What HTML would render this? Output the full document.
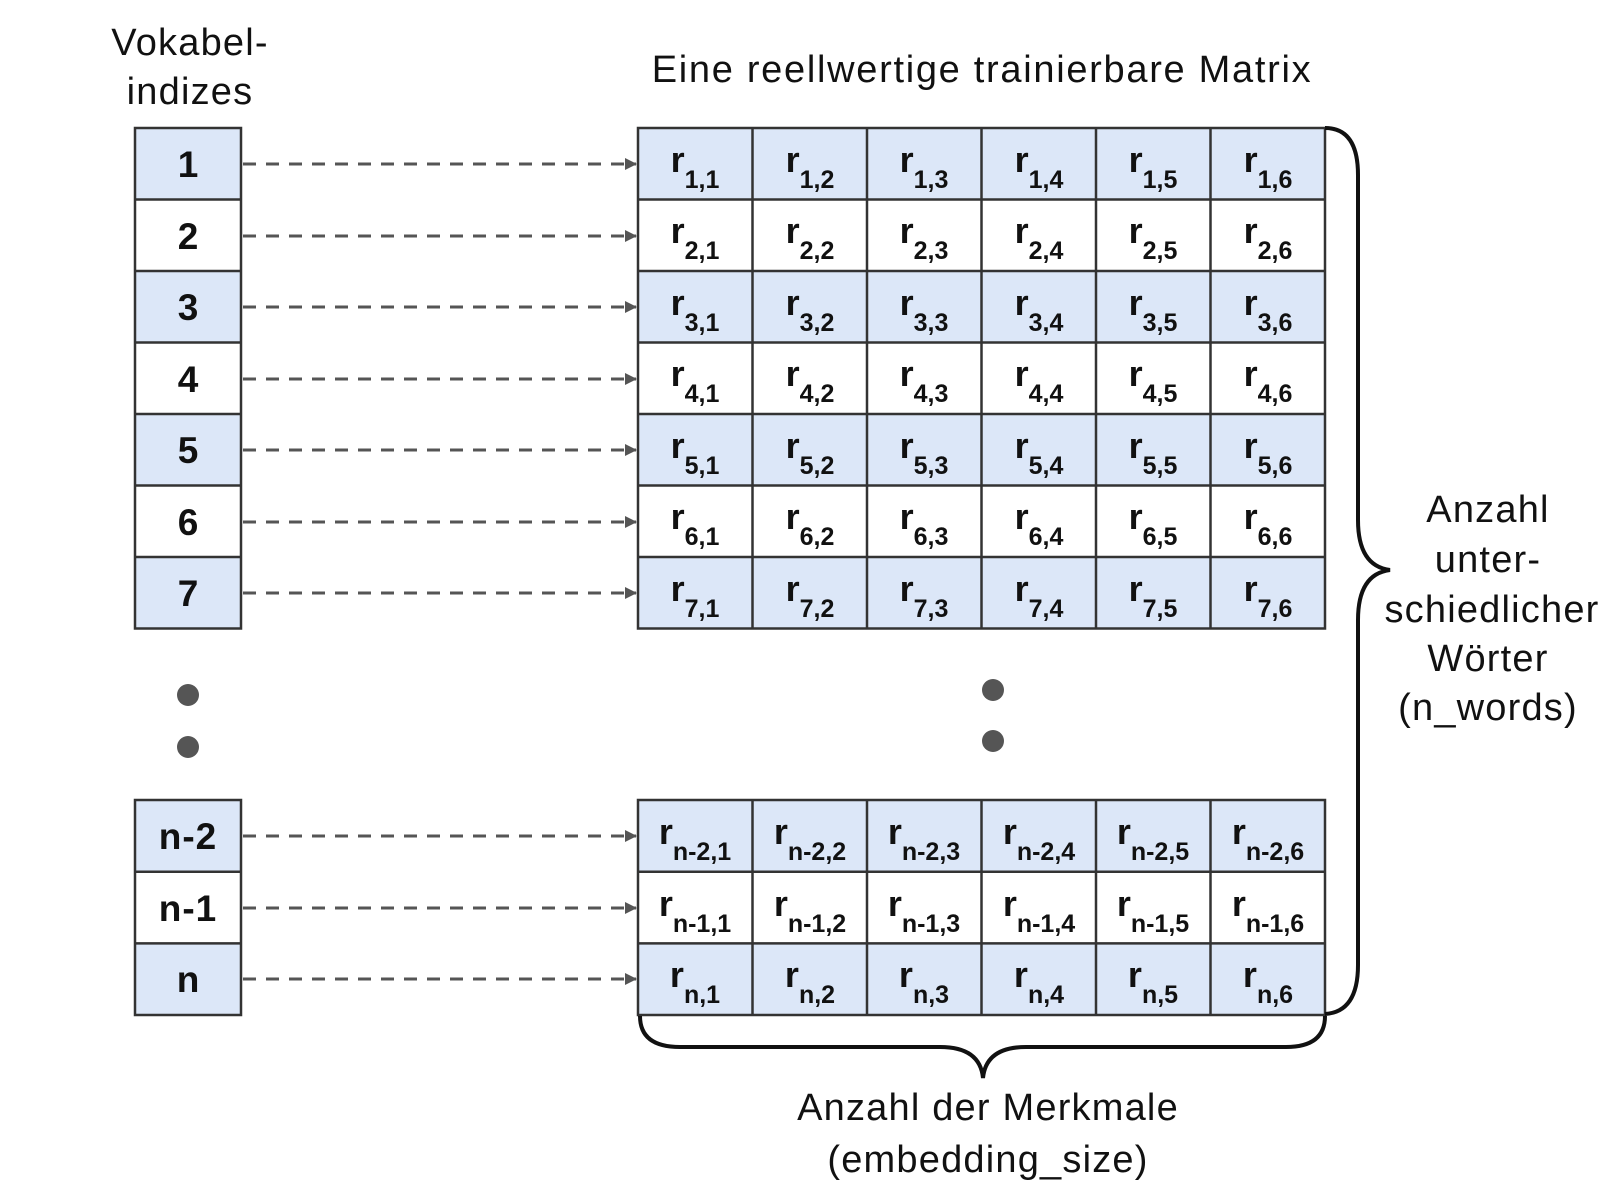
<!DOCTYPE html>
<html><head><meta charset="utf-8"><style>html,body{margin:0;padding:0;background:#fff}svg{display:block}</style></head>
<body>
<svg width="1598" height="1192" viewBox="0 0 1598 1192" xmlns="http://www.w3.org/2000/svg" font-family="Liberation Sans, Arial, sans-serif">
<defs>
<marker id="ah" markerWidth="12" markerHeight="12" refX="11" refY="6" orient="auto" markerUnits="userSpaceOnUse"><path d="M0,0 L12,6 L0,12 Z" fill="#555"/></marker>
</defs>
<g font-size="38" fill="#111" text-anchor="middle" letter-spacing="1.2">
<text x="190" y="55">Vokabel-</text>
<text x="190" y="104">indizes</text>
<text x="982" y="82" letter-spacing="1.7">Eine reellwertige trainierbare Matrix</text>
<text x="1488" y="522">Anzahl</text>
<text x="1488" y="572">unter-</text>
<text x="1492" y="622">schiedlicher</text>
<text x="1488" y="671">Wörter</text>
<text x="1488" y="720">(n_words)</text>
<text x="988" y="1120">Anzahl der Merkmale</text>
<text x="988" y="1172">(embedding_size)</text>
</g>
<g fill="#dce7f8">
<rect x="135" y="128" width="106" height="71.5"/>
<rect x="135" y="271" width="106" height="71.5"/>
<rect x="135" y="414" width="106" height="71.5"/>
<rect x="135" y="557" width="106" height="71.5"/>
<rect x="135" y="800" width="106" height="71.7"/>
<rect x="135" y="943.4" width="106" height="71.6"/>
<rect x="638" y="128" width="687" height="71.5"/>
<rect x="638" y="271" width="687" height="71.5"/>
<rect x="638" y="414" width="687" height="71.5"/>
<rect x="638" y="557" width="687" height="71.5"/>
<rect x="638" y="800" width="687" height="71.7"/>
<rect x="638" y="943.4" width="687" height="71.6"/>
</g>
<g stroke="#333" stroke-width="2.5" fill="none">
<rect x="135" y="128" width="106" height="500.5"/>
<rect x="135" y="800" width="106" height="215"/>
<line x1="135" y1="199.5" x2="241" y2="199.5"/><line x1="135" y1="271" x2="241" y2="271"/><line x1="135" y1="342.5" x2="241" y2="342.5"/><line x1="135" y1="414" x2="241" y2="414"/><line x1="135" y1="485.5" x2="241" y2="485.5"/><line x1="135" y1="557" x2="241" y2="557"/>
<line x1="135" y1="871.7" x2="241" y2="871.7"/><line x1="135" y1="943.4" x2="241" y2="943.4"/>
<rect x="638" y="128" width="687" height="500.5"/>
<rect x="638" y="800" width="687" height="215"/>
<line x1="638" y1="199.5" x2="1325" y2="199.5"/><line x1="638" y1="271" x2="1325" y2="271"/><line x1="638" y1="342.5" x2="1325" y2="342.5"/><line x1="638" y1="414" x2="1325" y2="414"/><line x1="638" y1="485.5" x2="1325" y2="485.5"/><line x1="638" y1="557" x2="1325" y2="557"/>
<line x1="638" y1="871.7" x2="1325" y2="871.7"/><line x1="638" y1="943.4" x2="1325" y2="943.4"/>
<line x1="752.5" y1="128" x2="752.5" y2="628.5"/><line x1="867" y1="128" x2="867" y2="628.5"/><line x1="981.5" y1="128" x2="981.5" y2="628.5"/><line x1="1096" y1="128" x2="1096" y2="628.5"/><line x1="1210.5" y1="128" x2="1210.5" y2="628.5"/>
<line x1="752.5" y1="800" x2="752.5" y2="1015"/><line x1="867" y1="800" x2="867" y2="1015"/><line x1="981.5" y1="800" x2="981.5" y2="1015"/><line x1="1096" y1="800" x2="1096" y2="1015"/><line x1="1210.5" y1="800" x2="1210.5" y2="1015"/>
</g>
<g font-size="37" font-weight="bold" fill="#111" text-anchor="middle">
<text x="188" y="177">1</text><text x="188" y="249">2</text><text x="188" y="320">3</text><text x="188" y="392">4</text><text x="188" y="463">5</text><text x="188" y="535">6</text><text x="188" y="606">7</text>
<text x="188" y="849" letter-spacing="1">n-2</text><text x="188" y="921" letter-spacing="1">n-1</text><text x="188" y="992">n</text>
</g>
<g stroke="#555" stroke-width="3" stroke-dasharray="13,10" marker-end="url(#ah)">
<line x1="243" y1="164" x2="636" y2="164"/><line x1="243" y1="236" x2="636" y2="236"/><line x1="243" y1="307" x2="636" y2="307"/><line x1="243" y1="379" x2="636" y2="379"/><line x1="243" y1="450" x2="636" y2="450"/><line x1="243" y1="522" x2="636" y2="522"/><line x1="243" y1="593" x2="636" y2="593"/>
<line x1="243" y1="836" x2="636" y2="836"/><line x1="243" y1="908" x2="636" y2="908"/><line x1="243" y1="979" x2="636" y2="979"/>
</g>
<g fill="#555"><circle cx="188" cy="695" r="11"/><circle cx="188" cy="747" r="11"/><circle cx="993" cy="690" r="11"/><circle cx="993" cy="741" r="11"/></g>
<g font-weight="bold" fill="#111" text-anchor="middle" font-size="36">
<text x="695" y="172">r<tspan font-size="25" dy="16">1,1</tspan></text><text x="810" y="172">r<tspan font-size="25" dy="16">1,2</tspan></text><text x="924" y="172">r<tspan font-size="25" dy="16">1,3</tspan></text><text x="1039" y="172">r<tspan font-size="25" dy="16">1,4</tspan></text><text x="1153" y="172">r<tspan font-size="25" dy="16">1,5</tspan></text><text x="1268" y="172">r<tspan font-size="25" dy="16">1,6</tspan></text>
<text x="695" y="243">r<tspan font-size="25" dy="16">2,1</tspan></text><text x="810" y="243">r<tspan font-size="25" dy="16">2,2</tspan></text><text x="924" y="243">r<tspan font-size="25" dy="16">2,3</tspan></text><text x="1039" y="243">r<tspan font-size="25" dy="16">2,4</tspan></text><text x="1153" y="243">r<tspan font-size="25" dy="16">2,5</tspan></text><text x="1268" y="243">r<tspan font-size="25" dy="16">2,6</tspan></text>
<text x="695" y="315">r<tspan font-size="25" dy="16">3,1</tspan></text><text x="810" y="315">r<tspan font-size="25" dy="16">3,2</tspan></text><text x="924" y="315">r<tspan font-size="25" dy="16">3,3</tspan></text><text x="1039" y="315">r<tspan font-size="25" dy="16">3,4</tspan></text><text x="1153" y="315">r<tspan font-size="25" dy="16">3,5</tspan></text><text x="1268" y="315">r<tspan font-size="25" dy="16">3,6</tspan></text>
<text x="695" y="386">r<tspan font-size="25" dy="16">4,1</tspan></text><text x="810" y="386">r<tspan font-size="25" dy="16">4,2</tspan></text><text x="924" y="386">r<tspan font-size="25" dy="16">4,3</tspan></text><text x="1039" y="386">r<tspan font-size="25" dy="16">4,4</tspan></text><text x="1153" y="386">r<tspan font-size="25" dy="16">4,5</tspan></text><text x="1268" y="386">r<tspan font-size="25" dy="16">4,6</tspan></text>
<text x="695" y="458">r<tspan font-size="25" dy="16">5,1</tspan></text><text x="810" y="458">r<tspan font-size="25" dy="16">5,2</tspan></text><text x="924" y="458">r<tspan font-size="25" dy="16">5,3</tspan></text><text x="1039" y="458">r<tspan font-size="25" dy="16">5,4</tspan></text><text x="1153" y="458">r<tspan font-size="25" dy="16">5,5</tspan></text><text x="1268" y="458">r<tspan font-size="25" dy="16">5,6</tspan></text>
<text x="695" y="529">r<tspan font-size="25" dy="16">6,1</tspan></text><text x="810" y="529">r<tspan font-size="25" dy="16">6,2</tspan></text><text x="924" y="529">r<tspan font-size="25" dy="16">6,3</tspan></text><text x="1039" y="529">r<tspan font-size="25" dy="16">6,4</tspan></text><text x="1153" y="529">r<tspan font-size="25" dy="16">6,5</tspan></text><text x="1268" y="529">r<tspan font-size="25" dy="16">6,6</tspan></text>
<text x="695" y="601">r<tspan font-size="25" dy="16">7,1</tspan></text><text x="810" y="601">r<tspan font-size="25" dy="16">7,2</tspan></text><text x="924" y="601">r<tspan font-size="25" dy="16">7,3</tspan></text><text x="1039" y="601">r<tspan font-size="25" dy="16">7,4</tspan></text><text x="1153" y="601">r<tspan font-size="25" dy="16">7,5</tspan></text><text x="1268" y="601">r<tspan font-size="25" dy="16">7,6</tspan></text>
<text x="695" y="844">r<tspan font-size="25" dy="16">n-2,1</tspan></text><text x="810" y="844">r<tspan font-size="25" dy="16">n-2,2</tspan></text><text x="924" y="844">r<tspan font-size="25" dy="16">n-2,3</tspan></text><text x="1039" y="844">r<tspan font-size="25" dy="16">n-2,4</tspan></text><text x="1153" y="844">r<tspan font-size="25" dy="16">n-2,5</tspan></text><text x="1268" y="844">r<tspan font-size="25" dy="16">n-2,6</tspan></text>
<text x="695" y="916">r<tspan font-size="25" dy="16">n-1,1</tspan></text><text x="810" y="916">r<tspan font-size="25" dy="16">n-1,2</tspan></text><text x="924" y="916">r<tspan font-size="25" dy="16">n-1,3</tspan></text><text x="1039" y="916">r<tspan font-size="25" dy="16">n-1,4</tspan></text><text x="1153" y="916">r<tspan font-size="25" dy="16">n-1,5</tspan></text><text x="1268" y="916">r<tspan font-size="25" dy="16">n-1,6</tspan></text>
<text x="695" y="987">r<tspan font-size="25" dy="16">n,1</tspan></text><text x="810" y="987">r<tspan font-size="25" dy="16">n,2</tspan></text><text x="924" y="987">r<tspan font-size="25" dy="16">n,3</tspan></text><text x="1039" y="987">r<tspan font-size="25" dy="16">n,4</tspan></text><text x="1153" y="987">r<tspan font-size="25" dy="16">n,5</tspan></text><text x="1268" y="987">r<tspan font-size="25" dy="16">n,6</tspan></text>
</g>
<g stroke="#111" stroke-width="4" fill="none">
<path d="M1325,128 Q1358,128 1358,175 L1358,520 Q1358,566 1390,570 Q1358,574 1358,620 L1358,965 Q1358,1012 1325,1014"/>
<path d="M640,1016 Q640,1047 680,1047 L940,1047 Q980,1047 983,1078 Q986,1047 1026,1047 L1286,1047 Q1325,1047 1325,1016"/>
</g>
</svg>
</body></html>
